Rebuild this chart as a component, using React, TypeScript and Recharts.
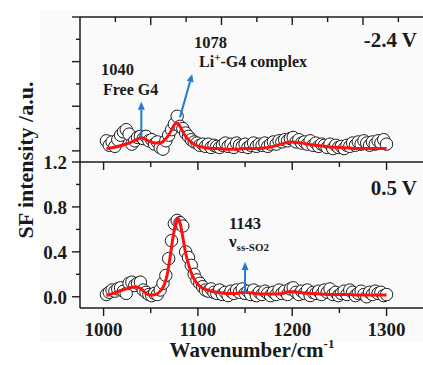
import { ComposedChart, Scatter, Line, XAxis, YAxis, ReferenceLine } from "recharts";

const FONT = '"Liberation Serif", "Times New Roman", serif';
const INK = "#1a1a1a";
const RED = "#ff1010";
const BLUE = "#1f7bd0";

// wavenumbers of the measured points (cm-1)
const SCAN_X = [
  1003, 1006, 1009, 1012, 1015, 1018, 1021, 1024, 1027, 1030,
  1033, 1036, 1039, 1042, 1045, 1048, 1051, 1054, 1057, 1060,
  1063, 1066, 1069, 1072, 1075, 1078, 1081, 1084, 1087, 1090,
  1093, 1096, 1099, 1102, 1105, 1108, 1111, 1114, 1117, 1120,
  1123, 1126, 1129, 1132, 1135, 1138, 1141, 1144, 1147, 1150,
  1153, 1156, 1159, 1162, 1165, 1168, 1171, 1174, 1177, 1180,
  1183, 1186, 1189, 1192, 1195, 1198, 1201, 1204, 1207, 1210,
  1213, 1216, 1219, 1222, 1225, 1228, 1231, 1234, 1237, 1240,
  1243, 1246, 1249, 1252, 1255, 1258, 1261, 1264, 1267, 1270,
  1273, 1276, 1279, 1282, 1285, 1288, 1291, 1294, 1297, 1300,
];

// -2.4 V spectrum (open circles)
const SF_NEG24 = [
  0.09, 0.05, 0.08, 0.04, 0.10, 0.14, 0.17, 0.19, 0.15, 0.06,
  0.09, 0.12, 0.13, 0.11, 0.13, 0.09, 0.10, 0.06, 0.08, 0.03,
  0.015, 0.09, 0.14, 0.19, 0.24, 0.31, 0.22, 0.20, 0.16, 0.13,
  0.10, 0.08, 0.07, 0.05, 0.06, 0.04, 0.06, 0.03, 0.05, 0.04,
  0.03, 0.05, 0.07, 0.04, 0.06, 0.03, 0.07, 0.05, 0.04, 0.06,
  0.03, 0.05, 0.07, 0.04, 0.06, 0.05, 0.07, 0.04, 0.06, 0.08,
  0.06, 0.09, 0.08, 0.10, 0.09, 0.11, 0.12, 0.08, 0.10, 0.07,
  0.08, 0.06, 0.09, 0.05, 0.07, 0.04, 0.06, 0.05, 0.03, 0.06,
  0.02, 0.05, 0.03, 0.04, 0.02, 0.05, 0.04, 0.07, 0.05, 0.08,
  0.06, 0.09, 0.07, 0.05, 0.08, 0.06, 0.09, 0.07, 0.10, 0.06,
];

// 0.5 V spectrum (open circles)
const SF_POS05 = [
  0.02, 0.04, 0.06, 0.05, 0.07, 0.08, 0.05, 0.03, 0.12, 0.13,
  0.10, 0.12, 0.13, 0.06, 0.04, 0.02, 0.01, 0.03, 0.02, 0.06,
  0.12, 0.19, 0.34, 0.50, 0.65, 0.68, 0.66, 0.63, 0.40, 0.35,
  0.28, 0.20, 0.15, 0.12, 0.09, 0.06, 0.05, 0.07, 0.04, 0.03,
  0.06, 0.02, 0.04, 0.01, 0.05, 0.03, 0.06, 0.04, 0.07, 0.03,
  0.05, 0.02, 0.06, 0.01, 0.04, 0.02, 0.05, 0.03, 0.01, 0.04,
  0.02, 0.06, 0.03, 0.05, 0.02, 0.07, 0.08, 0.04, 0.02, 0.05,
  0.03, 0.06, 0.01, 0.04, 0.03, 0.05, 0.02, 0.06, 0.04, 0.07,
  0.02, 0.04, 0.01, 0.03, 0.05, 0.02, 0.06, 0.04, 0.01, 0.03,
  0.05, 0.02, 0.00, 0.04, 0.02, 0.05, 0.03, 0.04, 0.01, 0.02,
];

// fitted curves (red)
const FIT_X = [
  1003, 1010, 1020, 1030, 1035, 1040, 1045, 1050, 1055, 1060,
  1065, 1068, 1071, 1074, 1077, 1079, 1081, 1084, 1087, 1090,
  1094, 1098, 1104, 1110, 1120, 1130, 1140, 1150, 1160, 1170,
  1180, 1190, 1195, 1200, 1210, 1220, 1230, 1240, 1250, 1260,
  1270, 1280, 1290, 1300,
];
const FIT_NEG24 = [
  0.02, 0.03, 0.05, 0.08, 0.10, 0.12, 0.10, 0.08, 0.07, 0.07,
  0.10, 0.13, 0.17, 0.22, 0.25, 0.245, 0.22, 0.17, 0.13, 0.10,
  0.07, 0.05, 0.035, 0.025, 0.02, 0.015, 0.015, 0.02, 0.02, 0.025,
  0.04, 0.065, 0.075, 0.08, 0.07, 0.055, 0.045, 0.035, 0.03, 0.025,
  0.02, 0.02, 0.02, 0.02,
];
const FIT_POS05 = [
  0.01, 0.03, 0.06, 0.085, 0.09, 0.07, 0.03, 0.015, 0.02, 0.05,
  0.12, 0.22, 0.38, 0.55, 0.67, 0.70, 0.66, 0.53, 0.39, 0.29,
  0.19, 0.13, 0.08, 0.06, 0.04, 0.03, 0.03, 0.04, 0.03, 0.025,
  0.025, 0.03, 0.045, 0.045, 0.035, 0.03, 0.025, 0.02, 0.02, 0.02,
  0.015, 0.015, 0.015, 0.015,
];

const X_DOMAIN = [975, 1345];
const Y_DOMAIN = [-0.1, 1.2];
const X_TICKS = [1000, 1050, 1100, 1150, 1200, 1250, 1300];
const X_MAJOR = [1000, 1100, 1200, 1300];
// the top frame edge of the upper panel carries its own tick spacing
const TOPEDGE_TICKS = [1012.5, 1050, 1087.5, 1125, 1162.5, 1200, 1237.5, 1275, 1312.5];
const TOPEDGE_MAJOR = [1050, 1125, 1200, 1275];
const Y_TICKS = [0, 0.2, 0.4, 0.6, 0.8, 1.0, 1.2];
const Y_MAJOR = [0, 0.4, 0.8, 1.2];

const topScatter = SCAN_X.map((x, i) => ({ x, y: SF_NEG24[i] }));
const botScatter = SCAN_X.map((x, i) => ({ x, y: SF_POS05[i] }));
const topFit = FIT_X.map((x, i) => ({ x, y: FIT_NEG24[i] }));
const botFit = FIT_X.map((x, i) => ({ x, y: FIT_POS05[i] }));

const W = 440;
const MARGIN_R = 11;

function xTick(major: number[], dir: number, labels: boolean) {
  return (props: any) => {
    const { x, y, payload } = props;
    const isMajor = major.includes(payload.value);
    const len = isMajor ? 8 : 5;
    return (
      <g>
        <line x1={x} x2={x} y1={y} y2={y + dir * len} stroke={INK} strokeWidth={1.4} />
        {labels && isMajor && (
          <text x={x} y={y + 28} textAnchor="middle" fontFamily={FONT} fontWeight="bold" fontSize={19} fill={INK}>
            {payload.value}
          </text>
        )}
      </g>
    );
  };
}

function yTick(labels: boolean) {
  return (props: any) => {
    const { x, y, payload } = props;
    const isMajor = Y_MAJOR.includes(payload.value);
    const len = isMajor ? 8 : 4;
    return (
      <g>
        <line x1={x} x2={x - len} y1={y} y2={y} stroke={INK} strokeWidth={1.4} />
        {labels && isMajor && (
          <text x={x - 13} y={y + 7} textAnchor="end" fontFamily={FONT} fontWeight="bold" fontSize={19} fill={INK}>
            {payload.value.toFixed(1)}
          </text>
        )}
      </g>
    );
  };
}

const Circle = (p: any) => <circle cx={p.cx} cy={p.cy} r={6.2} fill="#fff" stroke={INK} strokeWidth={1} />;

const Arrow = (p: any) => {
  const { x1, y1, x2, y2 } = p;
  const dx = x2 - x1;
  const dy = y2 - y1;
  const L = Math.hypot(dx, dy) || 1;
  const ux = dx / L;
  const uy = dy / L;
  const hl = 8;
  const hw = 3.5;
  const bx = x2 - ux * hl;
  const by = y2 - uy * hl;
  return (
    <g>
      <line x1={x1} y1={y1} x2={bx} y2={by} stroke={BLUE} strokeWidth={2} />
      <polygon points={`${x2},${y2} ${bx - uy * hw},${by + ux * hw} ${bx + uy * hw},${by - ux * hw}`} fill={BLUE} />
    </g>
  );
};

const axisLine = { stroke: INK, strokeWidth: 1.5 };
const txt = { fontFamily: FONT, fontWeight: "bold" as const, fill: INK };

export default function App() {
  return (
    <div style={{ position: "fixed", left: 0, top: 0, width: 423, height: 365, overflow: "hidden", background: "#fff" }}>
      <div style={{ position: "absolute", left: 40, top: 10, width: 383, height: 332, background: "#fafafa" }} />

      {/* upper panel: -2.4 V */}
      <div style={{ position: "absolute", left: 0, top: 0 }}>
        <ComposedChart width={W} height={162} margin={{ top: 16, right: MARGIN_R, bottom: 0, left: 0 }}>
          <XAxis
            dataKey="x" type="number" orientation="top" domain={X_DOMAIN} ticks={TOPEDGE_TICKS} interval={0}
            height={1} tickSize={0} tickMargin={0} tickLine={false} axisLine={axisLine}
            tick={xTick(TOPEDGE_MAJOR, 1, false)}
          />
          <YAxis
            type="number" domain={Y_DOMAIN} ticks={Y_TICKS} interval={0} width={80}
            tickSize={0} tickMargin={0} tickLine={false} axisLine={axisLine} tick={yTick(false)}
          />
          <Scatter data={topScatter} dataKey="y" shape={Circle} isAnimationActive={false} />
          <Line data={topFit} dataKey="y" type="monotone" stroke={RED} strokeWidth={3} dot={false} isAnimationActive={false} zIndex={1000} />
          <ReferenceLine segment={[{ x: 1040, y: 0.125 }, { x: 1040, y: 0.44 }]} ifOverflow="visible" shape={Arrow} zIndex={1100} />
          <ReferenceLine segment={[{ x: 1081, y: 0.3 }, { x: 1094, y: 0.69 }]} ifOverflow="visible" shape={Arrow} zIndex={1100} />
        </ComposedChart>
      </div>

      {/* lower panel: 0.5 V */}
      <div style={{ position: "absolute", left: 0, top: 0 }}>
        <ComposedChart width={W} height={365} margin={{ top: 161, right: MARGIN_R, bottom: 0, left: 0 }}>
          <XAxis
            dataKey="x" type="number" orientation="bottom" domain={X_DOMAIN} ticks={X_TICKS} interval={0}
            height={57} tickSize={0} tickMargin={0} tickLine={false} axisLine={axisLine}
            tick={xTick(X_MAJOR, 1, true)}
          />
          <XAxis
            xAxisId="div" dataKey="x" type="number" orientation="top" domain={X_DOMAIN} ticks={X_TICKS} interval={0}
            height={1} tickSize={0} tickMargin={0} tickLine={false} axisLine={axisLine}
            tick={xTick(X_MAJOR, 1, false)}
          />
          <YAxis
            type="number" domain={Y_DOMAIN} ticks={Y_TICKS} interval={0} width={80}
            tickSize={0} tickMargin={0} tickLine={false} axisLine={axisLine} tick={yTick(true)}
          />
          <Scatter data={botScatter} dataKey="y" shape={Circle} isAnimationActive={false} />
          <Line xAxisId="div" data={botFit} dataKey="y" type="monotone" stroke={RED} strokeWidth={3} dot={false} isAnimationActive={false} zIndex={1000} />
          <ReferenceLine xAxisId="div" segment={[{ x: 1150, y: 0.035 }, { x: 1150, y: 0.31 }]} ifOverflow="visible" shape={Arrow} zIndex={1100} />
        </ComposedChart>
      </div>

      {/* labels and annotations */}
      <svg width={423} height={365} style={{ position: "absolute", left: 0, top: 0, pointerEvents: "none" }}>
        <text {...txt} fontSize={22} textAnchor="middle" transform="translate(33,160) rotate(-90)">SF intensity /a.u.</text>
        <text {...txt} fontSize={21} x={252} y={357} textAnchor="middle">
          Wavenumber/cm<tspan fontSize={13} dy={-9}>-1</tspan>
        </text>
        <text {...txt} fontSize={21} x={417} y={47} textAnchor="end">-2.4 V</text>
        <text {...txt} fontSize={21} x={417} y={195} textAnchor="end">0.5 V</text>
        <text {...txt} fontSize={16.5} x={194} y={48}>1078</text>
        <text {...txt} fontSize={16} x={199} y={67}>
          Li<tspan fontSize={11} dy={-6}>+</tspan><tspan dy={6}>-G4 complex</tspan>
        </text>
        <text {...txt} fontSize={16.5} x={101} y={75}>1040</text>
        <text {...txt} fontSize={16} x={103} y={95}>Free G4</text>
        <text {...txt} fontSize={16.5} x={229} y={229}>1143</text>
        <text {...txt} fontSize={17} x={229} y={247}>
          ν<tspan fontSize={11} dy={4}>ss-SO2</tspan>
        </text>
      </svg>
    </div>
  );
}
